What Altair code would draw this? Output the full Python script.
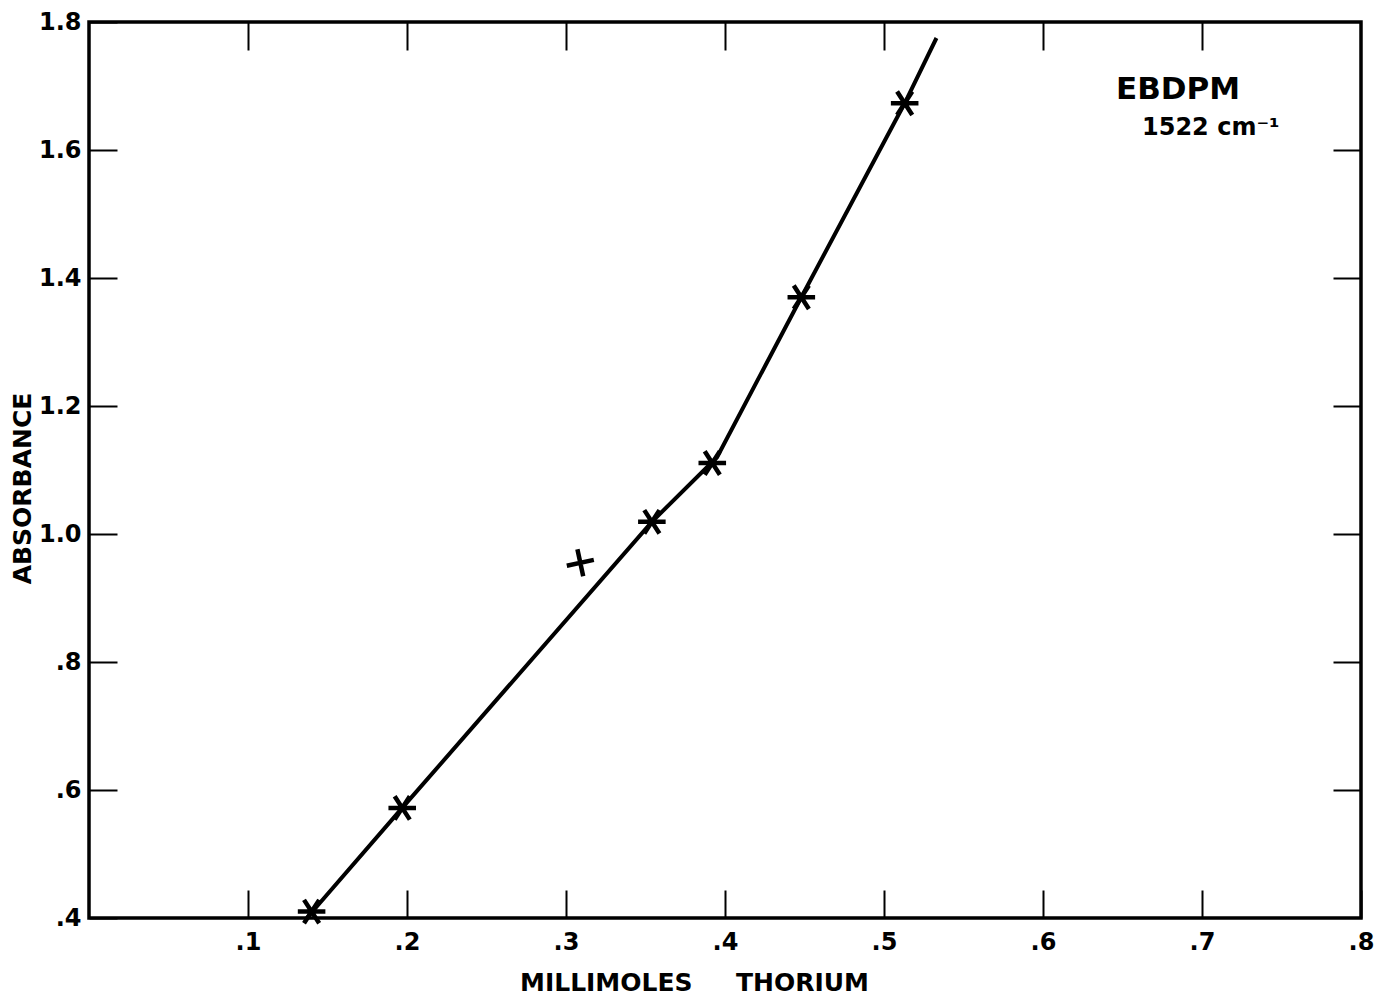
import altair as alt
import pandas as pd

# Measured absorbance at 1522 cm-1 against millimoles of thorium
thorium_mmol = [0.140, 0.197, 0.309, 0.354, 0.392, 0.448, 0.513]
absorbance = [0.410, 0.572, 0.955, 1.019, 1.111, 1.370, 1.673]
marker_kind = ["star", "star", "plus", "star", "star", "star", "star"]

# Vertices of the drawn calibration curve
curve_x = [0.137, 0.197, 0.354, 0.395, 0.448, 0.513, 0.533]
curve_y = [0.400, 0.572, 1.019, 1.120, 1.370, 1.673, 1.775]

# Tick values
x_ticks = [0.1, 0.2, 0.3, 0.4, 0.5, 0.6, 0.7, 0.8]
y_ticks = [0.4, 0.6, 0.8, 1.0, 1.2, 1.4, 1.6, 1.8]

points = pd.DataFrame({"mmol": thorium_mmol, "abs": absorbance, "kind": marker_kind})
curve = pd.DataFrame({"mmol": curve_x, "abs": curve_y})

W, H = 1272, 896
TICK = 28
FONT = "DejaVu Sans"
label_expr = ("datum.value < 1 ? substring(format(datum.value, '.1f'), 1) "
              ": format(datum.value, '.1f')")

x_scale = alt.Scale(domain=[0, 0.8], nice=False, zero=False)
y_scale = alt.Scale(domain=[0.4, 1.8], nice=False, zero=False)

common_axis = dict(
    domain=False, grid=False, tickSize=TICK, offset=-TICK, tickWidth=2,
    tickColor="black", labelColor="black", labelFont=FONT, labelFontSize=24,
    labelFontWeight="bold", labelFlush=False, labelOverlap=False,
    titleFont=FONT, titleFontSize=25, titleFontWeight="bold", titleColor="black",
)

curve_layer = alt.Chart(curve).mark_line(color="black", strokeWidth=4).encode(
    x=alt.X("mmol:Q", scale=x_scale, axis=alt.Axis(
        orient="bottom", values=x_ticks, labelExpr=label_expr, labelPadding=12,
        title="MILLIMOLES\u00a0\u00a0\u00a0\u00a0 THORIUM", titleX=605, titleAlign="center",
        titlePadding=16, **common_axis)),
    y=alt.Y("abs:Q", scale=y_scale, axis=alt.Axis(
        orient="left", values=y_ticks, labelExpr=label_expr, labelPadding=8,
        title="ABSORBANCE", titleY=466, titleAlign="center", titlePadding=3,
        **common_axis)),
    order="mmol:Q",
)

star_path = "M-1,0L1,0M-0.55,-0.85L0.55,0.85M-0.55,0.85L0.55,-0.85"
plus_path = "M-0.98,0.21L0.98,-0.21M-0.21,-0.98L0.21,0.98"

point_layer = alt.Chart(points).mark_point(
    filled=False, color="black", strokeWidth=4.5, size=760, opacity=1
).encode(
    x=alt.X("mmol:Q", scale=x_scale, axis=alt.Axis(
        orient="top", values=x_ticks[:-1], labels=False, title=None, **common_axis)),
    y=alt.Y("abs:Q", scale=y_scale, axis=alt.Axis(
        orient="right", values=y_ticks[1:-1], labels=False, title=None, **common_axis)),
    shape=alt.Shape("kind:N", scale=alt.Scale(domain=["star", "plus"],
                                              range=[star_path, plus_path]), legend=None),
)

name_label = alt.Chart(pd.DataFrame({"t": ["EBDPM"]})).mark_text(
    font=FONT, fontSize=31, fontWeight="bold", color="black", align="center", baseline="middle"
).encode(text="t:N", x=alt.value(1089), y=alt.value(68))

band_label = alt.Chart(pd.DataFrame({"t": ["1522 cm\u207b\u00b9"]})).mark_text(
    font=FONT, fontSize=24, fontWeight="bold", color="black", align="left", baseline="middle"
).encode(text="t:N", x=alt.value(1053), y=alt.value(106))

chart = alt.layer(curve_layer, point_layer, name_label, band_label).resolve_axis(
    x="independent", y="independent"
).properties(
    width=W, height=H, autosize="none",
    padding={"left": 89, "top": 22, "right": 14, "bottom": 81},
).configure(background="white").configure_view(stroke="black", strokeWidth=3.5)

chart.save("out.html", embed_options={"renderer": "svg", "actions": False})
